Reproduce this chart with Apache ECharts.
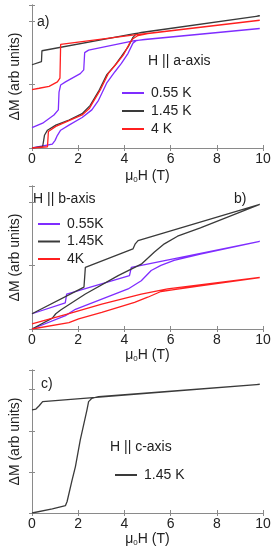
<!DOCTYPE html>
<html><head><meta charset="utf-8">
<script src="https://cdn.jsdelivr.net/npm/echarts@6/dist/echarts.min.js"></script>
<style>html,body{margin:0;padding:0;background:#fff}#c{width:275px;height:550px}</style>
</head><body><div id="c"></div>
<script>
// ---------- Data (field in T, ΔM in arb units) ----------
const xTicks = [0, 2, 4, 6, 8, 10];
// Panel a) H || a-axis  (up sweep then down sweep)
const a055_H = [0,0.88,1.0,1.1,1.24,1.6,2.17,2.59,2.88,3.23,3.59,3.87,4.16,4.37,4.52,4.87,9.86, 4.44,2.45,2.28,2.24,2.09,1.45,1.24,1.17,1.14,0.95,0.46,0];
const a055_M = [0,0.06,0.12,0.2,0.28,0.36,0.48,0.6,0.75,1.02,1.2,1.33,1.49,1.65,1.69,1.71,1.88, 1.69,1.54,1.5,1.23,1.17,1.04,0.99,0.88,0.6,0.52,0.39,0.32];
const a145_H = [0,0.46,0.51,0.54,0.67,1.03,1.6,2.17,2.52,2.88,3.23,3.59,3.87,4.16,4.37,4.52,4.73,9.86, 4.44,0.43,0.41,0];
const a145_M = [0,0.02,0.03,0.2,0.28,0.36,0.44,0.54,0.67,0.89,1.15,1.3,1.44,1.59,1.74,1.8,1.82,2.08, 1.8,1.53,1.36,1.31];
const a4_H = [0,0.67,0.71,1.03,1.6,2.17,2.48,2.59,2.95,3.3,3.66,3.95,4.23,4.37,4.59,5.01,9.86, 4.44,1.24,1.21,1.1,0.74,0.31,0];
const a4_M = [0,0.02,0.26,0.34,0.43,0.52,0.62,0.69,0.91,1.17,1.33,1.46,1.65,1.72,1.77,1.8,2.01, 1.78,1.63,1.1,1.04,0.97,0.94,0.92];
// Panel b) H || b-axis
const b055_H = [0,1.45,1.88,3.02,4.16,4.73,5.16,5.58,6.15,7.29,9.86, 4.3,4.23,4.22,1.5,1.45,1.44,0];
const b055_M = [0,0.21,0.31,0.47,0.63,0.76,0.92,1.0,1.08,1.18,1.38, 0.97,0.96,0.84,0.55,0.54,0.41,0.24];
const b145_H = [0,0.88,1.03,1.24,2.31,3.73,4.73,5.3,5.73,6.3,7.29,9.86, 4.59,4.47,4.37,2.31,2.27,2.25,0];
const b145_M = [0,0.17,0.24,0.3,0.55,0.84,1.02,1.21,1.34,1.46,1.59,1.96, 1.39,1.34,1.26,0.97,0.94,0.66,0.24];
const b4_H = [0,1.6,2.02,3.02,4.44,5.01,5.58,6.15,7.29,9.86, 5.87,4.73,3.02,1.6,0];
const b4_M = [0,0.1,0.16,0.26,0.42,0.5,0.59,0.62,0.68,0.81, 0.63,0.55,0.39,0.24,0.08];
// Panel c) H || c-axis
const c145_H = [0,0.88,1.45,1.52,1.74,1.88,2.09,2.38,2.45,2.59,2.88,9.86, 0.46,0.38,0.31,0.17,0];
const c145_M = [0,0.1,0.18,0.28,0.81,1.13,1.78,2.51,2.71,2.79,2.83,3.13, 2.71,2.67,2.61,2.53,2.51];

const PURPLE = '#7f2dff', BLACK = '#3a3a3a', RED = '#ff1f1f';
const FONT = 'Liberation Sans, Arial, sans-serif';
const zip = (h, m) => h.map((v, i) => [v, m[i]]);

const grids = [
  {left: 29, right: 12, top: 5, height: 143},
  {left: 29, right: 12, top: 186, height: 143},
  {left: 29, right: 12, top: 370, height: 143}
];
const yMax = [2.25, 2.25, 3.48];
const nameGaps = [20, 17, 18];
const axisCol = '#8a8a8a';

const xAxes = [], yAxes = [];
grids.forEach((g, i) => {
  xAxes.push({
    type: 'value', gridIndex: i, min: 0, max: 10, interval: 2,
    name: 'μ{s|0}H (T)', nameLocation: 'middle', nameGap: nameGaps[i],
    nameTextStyle: {fontFamily: FONT, fontSize: 14, color: '#222', rich: {s: {fontSize: 8, verticalAlign: 'bottom', padding: [8,0,0,0], fontFamily: FONT, color: '#222'}}},
    axisLine: {lineStyle: {color: axisCol, width: 1}},
    axisTick: {inside: true, length: 3, lineStyle: {color: axisCol}},
    axisLabel: {fontFamily: FONT, fontSize: 14, color: '#222', margin: 4, formatter: v => xTicks.includes(v) ? String(v) : ''},
    splitLine: {show: false}
  });
  xAxes.push({
    type: 'value', gridIndex: i, min: 0, max: 10, interval: 2, position: 'top',
    axisLine: {show: true, lineStyle: {color: axisCol}},
    axisTick: {inside: true, length: 3, lineStyle: {color: axisCol}},
    axisLabel: {show: false}, splitLine: {show: false}
  });
  yAxes.push({
    type: 'value', gridIndex: i, min: 0, max: yMax[i], interval: 1,
    name: 'ΔM (arb units)', nameLocation: 'middle', nameGap: 10,
    nameTextStyle: {fontFamily: FONT, fontSize: 14, color: '#222'},
    axisLine: {show: true, lineStyle: {color: axisCol}},
    axisTick: {inside: true, length: 3, lineStyle: {color: axisCol}},
    axisLabel: {show: false}, splitLine: {show: false}
  });
  yAxes.push({
    type: 'value', gridIndex: i, min: 0, max: yMax[i], interval: 1, position: 'right',
    axisLine: {show: true, lineStyle: {color: axisCol}},
    axisTick: {inside: true, length: 3, lineStyle: {color: axisCol}},
    axisLabel: {show: false}, splitLine: {show: false}
  });
});

function ser(name, panel, h, m, color) {
  return {name, type: 'line', xAxisIndex: panel * 2, yAxisIndex: panel * 2,
    data: zip(h, m), showSymbol: false, symbol: 'none', smooth: false,
    lineStyle: {color, width: 1.3}, itemStyle: {color}, animation: false};
}

const series = [
  ser('0.55 K', 0, a055_H, a055_M, PURPLE),
  ser('1.45 K', 0, a145_H, a145_M, BLACK),
  ser('4 K', 0, a4_H, a4_M, RED),
  ser('0.55K', 1, b055_H, b055_M, PURPLE),
  ser('1.45K', 1, b145_H, b145_M, BLACK),
  ser('4K', 1, b4_H, b4_M, RED),
  ser('1.45 K ', 2, c145_H, c145_M, BLACK)
];

const legBase = {orient: 'vertical', icon: 'rect', itemWidth: 22, itemHeight: 2,
  textStyle: {fontFamily: FONT, fontSize: 14, color: '#222', padding: [0,0,0,2]}, selectedMode: false};
const legend = [
  Object.assign({}, legBase, {data: ['0.55 K', '1.45 K', '4 K'], left: 117, top: 81, itemGap: 4}),
  Object.assign({}, legBase, {data: ['0.55K', '1.45K', '4K'], left: 33, top: 212, itemGap: 3.5}),
  Object.assign({}, legBase, {data: ['1.45 K '], left: 110, top: 463})
];

const txt = (t, x, y) => ({type: 'text', left: x, top: y, style: {text: t, font: '14px ' + FONT, fill: '#222'}});
const graphic = [
  txt('a)', 37, 15), txt('H || a-axis', 148, 54),
  txt('H || b-axis', 33, 192), txt('b)', 234, 192),
  txt('c)', 41, 377), txt('H || c-axis', 110, 440)
];

const chart = echarts.init(document.getElementById('c'), null, {renderer: 'canvas'});
chart.setOption({animation: false, grid: grids, xAxis: xAxes, yAxis: yAxes, series, legend, graphic});
</script></body></html>
